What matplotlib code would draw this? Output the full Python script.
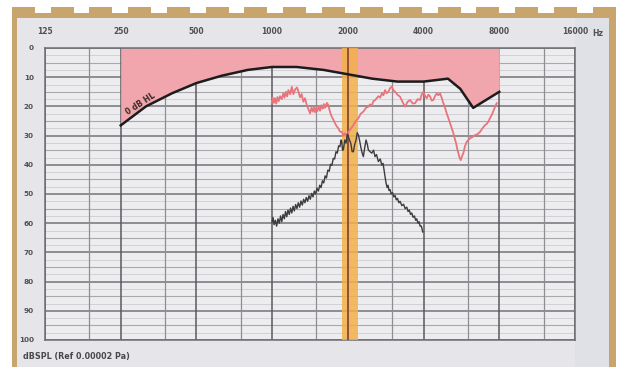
import matplotlib
matplotlib.use("Agg")
import matplotlib.pyplot as plt
from matplotlib.patches import Rectangle

# ---- data -------------------------------------------------------------
octave_freqs = [125, 250, 500, 1000, 2000, 4000, 8000, 16000]
octave_labels = ["125", "250", "500", "1000", "2000", "4000", "8000", "16000"]
level_ticks = [0, 10, 20, 30, 40, 50, 60, 70, 80, 90, 100]

# 0 dB HL reference threshold (dB SPL)
hl_freq = [250, 315, 400, 500, 630, 800, 1000, 1250, 1600, 2000, 2500,
           3150, 4000, 5000, 5600, 6300, 8000]
hl_db = [26.5, 20.0, 15.5, 12.0, 9.5, 7.5, 6.5, 6.5, 7.5, 9.0, 10.5,
         11.5, 11.5, 10.5, 14.0, 20.5, 15.0]

# measured spectrum (red)
red_freq = [996, 1005, 1016, 1027, 1038, 1050, 1062, 1075, 1092, 1108, 1120,
            1135, 1148, 1160, 1180, 1197, 1215, 1234, 1255, 1271, 1291, 1310,
            1331, 1350, 1373, 1395, 1415, 1432, 1450, 1465, 1481, 1497, 1515,
            1533, 1551, 1570, 1590, 1607, 1623, 1650, 1672, 1700, 1725, 1750,
            1779, 1805, 1833, 1860, 1891, 1920, 1949, 1980, 2010, 2050, 2104,
            2150, 2202, 2250, 2305, 2360, 2413, 2450, 2490, 2526, 2570, 2606,
            2645, 2690, 2729, 2770, 2811, 2850, 2898, 2940, 2990, 3040, 3082,
            3150, 3226, 3300, 3377, 3450, 3535, 3620, 3701, 3790, 3874, 3930,
            3992, 4060, 4118, 4180, 4245, 4310, 4375, 4440, 4513, 4580, 4652,
            4720, 4796, 4870, 4945, 5020, 5099, 5180, 5256, 5320, 5387, 5440,
            5502, 5560, 5621, 5690, 5759, 5850, 5941, 6030, 6122, 6260, 6409,
            6560, 6709, 6860, 7023, 7130, 7240, 7350, 7470, 7580, 7700, 7816]
red_db = [19.0, 17.0, 18.8, 17.2, 19.0, 16.8, 18.2, 16.5, 17.5, 15.5, 17.0,
          15.0, 16.6, 14.4, 15.8, 13.3, 15.8, 14.2, 13.5, 14.8, 16.9, 15.8,
          18.4, 17.2, 19.5, 21.0, 22.4, 20.5, 21.8, 20.2, 22.0, 20.4, 21.6,
          19.8, 21.5, 19.6, 20.8, 19.2, 20.5, 18.8, 19.5, 22.0, 23.5, 24.5,
          25.8, 26.8, 27.5, 28.6, 28.7, 30.0, 29.2, 30.2, 28.7, 27.8, 26.4,
          25.0, 24.1, 22.5, 21.8, 20.5, 20.1, 19.3, 19.8, 18.2, 17.8, 17.2,
          16.5, 17.0, 15.5, 16.2, 14.4, 15.5, 15.0, 13.8, 13.2, 14.5, 15.0,
          16.0, 16.7, 18.5, 20.1, 18.5, 17.8, 19.0, 18.9, 17.5, 17.8, 16.0,
          15.0, 16.5, 17.2, 16.0, 16.6, 18.0, 17.8, 16.5, 15.5, 16.2, 15.5,
          17.0, 18.9, 20.5, 22.4, 24.0, 25.8, 27.5, 29.2, 31.0, 32.6, 34.5,
          36.0, 37.5, 38.4, 37.0, 36.0, 33.5, 32.1, 31.5, 30.9, 30.5, 29.8,
          29.5, 28.7, 27.5, 26.4, 26.0, 25.2, 24.0, 22.9, 21.5, 20.1, 18.9]

# narrow-band signal (dark)
sig_freq = [1000, 1008, 1018, 1030, 1042, 1055, 1068, 1080, 1092, 1105, 1118,
            1130, 1143, 1156, 1170, 1183, 1197, 1211, 1225, 1240, 1255, 1270,
            1286, 1302, 1318, 1334, 1350, 1367, 1384, 1401, 1418, 1436, 1454,
            1472, 1490, 1508, 1527, 1546, 1565, 1584, 1604, 1624, 1644, 1665,
            1686, 1707, 1728, 1750, 1772, 1794, 1816, 1838, 1860, 1880, 1891,
            1905, 1919, 1945, 1967, 1990, 2010, 2030, 2054, 2080, 2104, 2130,
            2156, 2180, 2202, 2225, 2250, 2280, 2305, 2335, 2362, 2390, 2413,
            2450, 2490, 2530, 2565, 2600, 2645, 2690, 2729, 2760, 2786, 2810,
            2838, 2865, 2890, 2916, 2943, 2975, 3010, 3045, 3082, 3115, 3150,
            3190, 3226, 3280, 3330, 3380, 3430, 3470, 3510, 3550, 3590, 3635,
            3680, 3720, 3758, 3800, 3840, 3874, 3920, 3970]
sig_db = [59.5, 58.0, 60.5, 59.0, 61.0, 58.5, 60.0, 57.5, 59.5, 57.0, 58.5,
          56.0, 57.8, 55.5, 57.0, 54.8, 56.5, 54.2, 55.8, 53.6, 55.0, 53.0,
          54.5, 52.4, 53.8, 51.8, 53.0, 51.2, 52.5, 50.6, 51.8, 49.8, 51.0,
          49.0, 50.0, 48.0, 49.0, 47.0, 47.8, 45.5, 46.2, 43.8, 44.5, 41.8,
          42.2, 39.8, 40.2, 37.8, 38.0, 35.5, 36.0, 33.5, 33.8, 31.5, 32.1,
          35.0, 34.9, 31.5, 32.6, 29.5, 30.4, 31.5, 32.6, 35.5, 35.5, 33.0,
          31.5, 29.0, 29.8, 31.5, 33.8, 36.0, 37.2, 34.0, 31.5, 33.0, 34.9,
          35.5, 36.0, 35.0, 37.2, 36.5, 38.9, 38.0, 40.1, 39.5, 41.8, 44.0,
          46.3, 47.8, 47.0, 48.8, 48.5, 50.0, 49.5, 51.0, 50.5, 52.0, 51.5,
          53.0, 52.5, 54.0, 53.5, 55.0, 54.5, 56.0, 55.5, 57.0, 56.5, 58.0,
          57.5, 59.0, 58.5, 60.0, 59.5, 61.0, 61.0, 63.0]

band_lo, band_hi, band_center = 1890, 2200, 2000

# ---- figure and decorative frame -------------------------------------
W, H = 619, 367
fig = plt.figure(figsize=(W / 100, H / 100), dpi=100)
fig.patch.set_facecolor("white")

tan = "#c9a56e"


def px_rect(x0, y0, x1, y1, color):
    fig.patches.append(Rectangle((x0 / W, 1 - y1 / H), (x1 - x0) / W,
                                 (y1 - y0) / H, transform=fig.transFigure,
                                 facecolor=color, edgecolor="none",
                                 zorder=-10))


px_rect(12, 13, 616, 18, tan)          # top band
px_rect(12, 13, 17, H, tan)            # left edge
px_rect(609, 7, 616, H, tan)           # right edge
x = 12.0
while x < 600:
    px_rect(x, 7, x + 23, 13, tan)     # crenellations
    x += 38.7
px_rect(17, 18, 609, H, "#e6e6ea")     # panel
px_rect(575, 18, 609, H, "#e0e1e7")

# ---- axes -------------------------------------------------------------
ax = fig.add_axes([45 / W, 1 - 340 / H, 530 / W, 292 / H])
ax.set_zorder(5)
ax.set_facecolor("#ededf0")
ax.set_xscale("log", base=2)
ax.set_xlim(octave_freqs[0], octave_freqs[-1])
ax.set_ylim(100, 0)

# grid
for lv in range(0, 101, 5):
    if lv % 10 == 0:
        ax.axhline(lv, color="#747478", lw=1.1, zorder=1)
    else:
        ax.axhline(lv, color="#a8a8ac", lw=0.8, zorder=1)
for lv in [v + 2.5 for v in range(0, 100, 5)]:
    ax.axhline(lv, color="#cdcdd1", lw=0.6, zorder=1)
for f in octave_freqs:
    ax.axvline(f, color="#5a5a5e", lw=1.1, zorder=1)
for f in octave_freqs[:-1]:
    ax.axvline(f * 1.5, color="#8e8e92", lw=0.9, zorder=1)

# pink region above the 0 dB HL curve
ax.fill_between(hl_freq, 0, hl_db, color="#f0a6ac", lw=0, zorder=2)

# orange marker band at 2 kHz
ax.axvspan(band_lo, band_hi, color="#f3b04a", alpha=0.85, lw=0, zorder=3)
ax.axvline(band_center, color="#8a4a32", lw=1.3, zorder=3.5)

# curves
ax.plot(hl_freq, hl_db, color="#1c1c1c", lw=1.8, zorder=6)
ax.plot(red_freq, red_db, color="#e8747c", lw=1.3, zorder=5)
ax.plot(sig_freq, sig_db, color="#3c3c3e", lw=1.0, zorder=5)

ax.text(300, 19.0, "0 dB HL", rotation=33, rotation_mode="anchor",
        ha="center", va="center", fontsize=5.5, fontweight="bold",
        color="#3a2a2a", zorder=7)

# ticks and labels
ax.xaxis.tick_top()
ax.set_xticks(octave_freqs)
ax.set_xticklabels(octave_labels)
ax.xaxis.set_minor_locator(matplotlib.ticker.NullLocator())
ax.tick_params(axis="x", length=0, pad=9, labelsize=5.5, labelcolor="#505055")
ax.set_yticks(level_ticks)
ax.set_yticklabels([str(v) for v in level_ticks])
ax.tick_params(axis="y", length=0, pad=8, labelsize=5.2, labelcolor="#505055")
for lab in ax.get_xticklabels() + ax.get_yticklabels():
    lab.set_fontweight("bold")

for sp in ax.spines.values():
    sp.set_color("#6e6e72")
    sp.set_linewidth(1.1)

fig.text(592 / W, 1 - 33 / H, "Hz", ha="left", va="center", fontsize=5.5,
         fontweight="bold", color="#505055")
fig.text(23 / W, 1 - 357 / H, "dBSPL (Ref 0.00002 Pa)", ha="left",
         va="center", fontsize=5.8, fontweight="bold", color="#47474c")

fig.savefig("out.png", dpi=100)
